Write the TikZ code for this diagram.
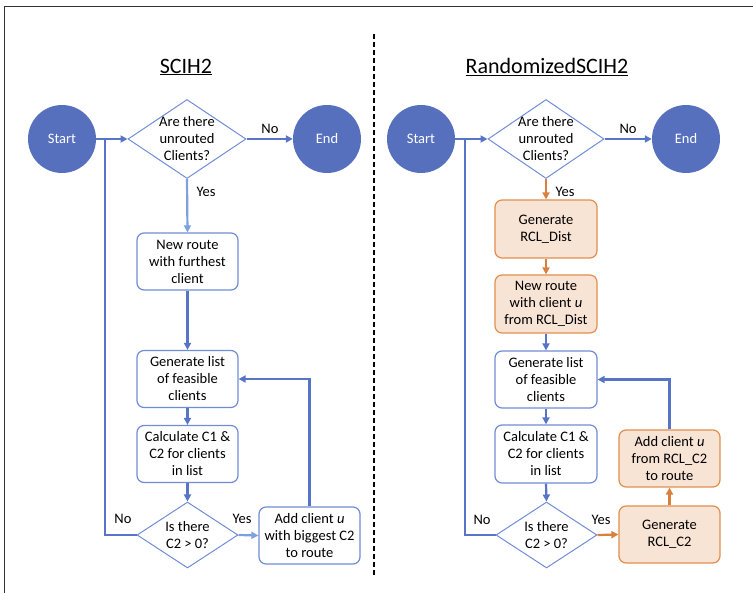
\documentclass[tikz,border=0pt]{standalone}
\usepackage{fontspec}
\setmainfont{Carlito}
\usetikzlibrary{shapes.geometric,arrows.meta}
\definecolor{cfill}{RGB}{86,112,190}
\definecolor{cline}{RGB}{88,116,198}
\definecolor{lline}{RGB}{125,160,222}
\definecolor{bord}{RGB}{112,140,214}
\definecolor{oline}{RGB}{226,142,78}
\definecolor{ofill}{RGB}{248,228,213}
\definecolor{oarrow}{RGB}{218,128,62}
\definecolor{frame}{RGB}{50,50,50}
\begin{document}
\begin{tikzpicture}[x=1pt,y=-1pt,font=\fontsize{14.5}{17}\selectfont,
  circ/.style={circle,fill=cfill,minimum size=68pt,inner sep=0,text=white},
  dia/.style={diamond,draw=bord,line width=1pt,inner sep=0},
  dtxt/.style={align=center,inner sep=0},
  bbox/.style={rectangle,rounded corners=7pt,draw=bord,line width=1.2pt,fill=white,align=center,minimum width=101pt,minimum height=57pt,inner sep=0},
  obox/.style={bbox,draw=oline,fill=ofill},
  conn/.style={draw=cline,line width=2.2pt,-{Triangle[length=7pt,width=7pt]}},
  lconn/.style={conn,draw=lline},
  oconn/.style={conn,draw=oarrow},
  plain/.style={draw=cline,line width=2.2pt},
  lab/.style={inner sep=0},
  ttl/.style={inner sep=0,font=\fontsize{22}{26}\selectfont}]
\useasboundingbox (0,0) rectangle (753,593);
\draw[frame,line width=1.5pt] (4.5,593) -- (4.5,6.5) -- (753,6.5);
\draw[black,line width=1.5pt,dash pattern=on 5pt off 3pt] (374,34) -- (374,575);

% ---------- Left: SCIH2 ----------
\node[ttl] (t1) at (186,67) {\underline{SCIH2}};
\node[circ] (s1) at (62,139) {Start};
\node[dia,minimum width=118pt,minimum height=79pt] (d1) at (187,139) {};
\node[dtxt] (d1t) at (d1) {Are there\\unrouted\\Clients?};
\node[circ] (e1) at (327,139) {End};
\node[bbox] (b1) at (187.5,261.5) {New route\\with furthest\\client};
\node[bbox] (b2) at (187.5,379) {Generate list\\of feasible\\clients};
\node[bbox] (b3) at (187.5,454) {Calculate C1 \&\\C2 for clients\\in list};
\node[dia,minimum width=101pt,minimum height=66pt] (d2) at (187.5,535) {};
\node[dtxt] (d2t) at (d2) {Is there\\C2 > 0?};
\node[bbox] (b4) at (309.5,535.5) {Add client \textit{u}\\with biggest C2\\to route};
\coordinate (j1) at (105,139);

\draw[conn] (s1) -- (d1.west);
\draw[conn] (d1.east) -- (e1.west);
\draw[lconn] (d1.south) -- (b1.north);
\draw[conn] (b1.south) -- (b2.north);
\draw[conn] (b2.south) -- (b3.north);
\draw[conn] (b3.south) -- (d2.north);
\draw[lconn] (d2.east) -- (b4.west);
\draw[conn] (b4.north) |- (b2.east);
\draw[plain] (d2.west) -| (j1);

\node[lab] (n1) at (270,129) {No};
\node[lab] (y1) at (206,192) {Yes};
\node[lab] (y2) at (242,519) {Yes};
\node[lab] (n2) at (123,519) {No};

% ---------- Right: RandomizedSCIH2 ----------
\node[ttl] (t2) at (547,67) {\underline{RandomizedSCIH2}};
\node[circ] (s2) at (421,139) {Start};
\node[dia,minimum width=116pt,minimum height=79pt] (d3) at (546,139) {};
\node[dtxt] (d3t) at (d3) {Are there\\unrouted\\Clients?};
\node[circ] (e2) at (686,139) {End};
\node[obox,minimum width=102pt,minimum height=58pt] (r1) at (546,229) {Generate\\RCL\_Dist};
\node[obox,minimum width=102pt,minimum height=58pt] (r2) at (546,304) {New route\\with client \textit{u}\\from RCL\_Dist};
\node[bbox,minimum width=102pt] (r3) at (546,379.5) {Generate list\\of feasible\\clients};
\node[bbox,minimum width=102pt,minimum height=58pt] (r4) at (546,454) {Calculate C1 \&\\C2 for clients\\in list};
\node[dia,minimum width=101pt,minimum height=66pt] (d4) at (546.5,535) {};
\node[dtxt] (d4t) at (d4) {Is there\\C2 > 0?};
\node[obox] (r5) at (669.5,534.5) {Generate\\RCL\_C2};
\node[obox] (r6) at (669.5,458.5) {Add client \textit{u}\\from RCL\_C2\\to route};
\coordinate (j2) at (465,139);

\draw[conn] (s2) -- (d3.west);
\draw[conn] (d3.east) -- (e2.west);
\draw[oconn] (d3.south) -- (r1.north);
\draw[oconn] (r1.south) -- (r2.north);
\draw[conn] (r2.south) -- (r3.north);
\draw[conn] (r3.south) -- (r4.north);
\draw[conn] (r4.south) -- (d4.north);
\draw[oconn] (d4.east) -- (r5.west);
\draw[oconn] (r5.north) -- (r6.south);
\draw[conn] (r6.north) |- (r3.east);
\draw[plain] (d4.west) -| (j2);

\node[lab] (n3) at (628,129) {No};
\node[lab] (y3) at (565,192) {Yes};
\node[lab] (y4) at (601,520) {Yes};
\node[lab] (n4) at (482,520) {No};
\end{tikzpicture}
\end{document}
